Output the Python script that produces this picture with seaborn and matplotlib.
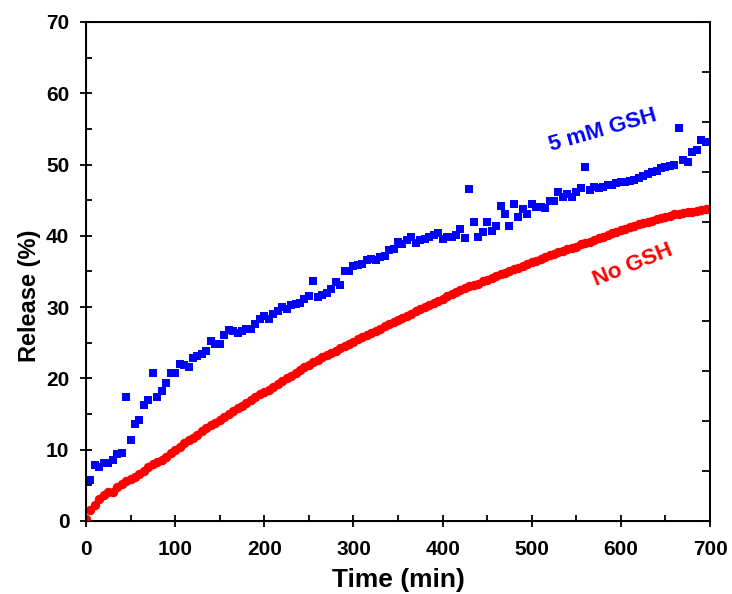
import numpy as np
import pandas as pd
import matplotlib
matplotlib.use("Agg")
import matplotlib.pyplot as plt
import seaborn as sns

# time points (min), sampled every 5 min
time_gsh = list(range(5, 705, 5))
release_gsh = [
    5.7, 7.9, 7.6, 8.2, 8.2, 8.5, 9.4, 9.5, 17.4, 11.3,
    13.6, 14.1, 16.3, 17.0, 20.8, 17.4, 18.3, 19.3, 20.8, 20.8,
    22.0, 21.9, 21.6, 22.9, 23.1, 23.4, 23.9, 25.2, 24.8, 24.8,
    26.1, 26.8, 26.6, 26.4, 26.6, 26.9, 27.0, 27.6, 28.4, 28.7,
    28.4, 29.0, 29.4, 30.0, 29.7, 30.3, 30.5, 30.6, 31.1, 31.5,
    33.7, 31.4, 31.7, 32.0, 32.6, 33.5, 33.1, 35.1, 35.1, 35.7,
    35.9, 36.0, 36.6, 36.7, 36.6, 37.0, 37.2, 38.0, 38.1, 39.2,
    38.9, 39.4, 39.8, 39.0, 39.4, 39.6, 39.9, 40.1, 40.4, 39.6,
    39.8, 39.9, 40.1, 41.0, 39.7, 46.6, 42.0, 39.9, 40.6, 41.9,
    40.7, 41.4, 44.2, 43.1, 41.4, 44.5, 42.7, 43.7, 43.0, 44.4,
    44.0, 44.0, 43.9, 44.9, 44.9, 46.1, 45.5, 45.9, 45.4, 46.2,
    46.7, 49.6, 46.5, 46.9, 46.7, 46.9, 47.1, 47.2, 47.4, 47.5,
    47.6, 47.7, 47.9, 48.1, 48.4, 48.7, 48.9, 49.1, 49.5, 49.7,
    49.8, 49.9, 55.1, 50.6, 50.3, 51.7, 52.0, 53.5, 53.1, 53.2,
]

time_ctrl = list(range(0, 705, 5))
release_ctrl = [
    0.3, 1.6, 2.2, 3.1, 3.7, 4.1, 4.0, 4.7, 5.2, 5.6,
    5.9, 6.2, 6.6, 7.0, 7.6, 8.0, 8.3, 8.6, 9.0, 9.5,
    10.0, 10.4, 10.9, 11.3, 11.7, 12.1, 12.6, 13.0, 13.4, 13.8,
    14.2, 14.6, 15.0, 15.4, 15.8, 16.2, 16.6, 17.0, 17.4, 17.8,
    18.1, 18.4, 18.8, 19.2, 19.6, 20.0, 20.4, 20.8, 21.2, 21.6,
    21.9, 22.3, 22.6, 23.0, 23.3, 23.6, 23.9, 24.2, 24.5, 24.8,
    25.1, 25.5, 25.8, 26.1, 26.4, 26.7, 27.0, 27.3, 27.6, 27.9,
    28.2, 28.5, 28.8, 29.1, 29.4, 29.7, 30.0, 30.3, 30.6, 30.9,
    31.2, 31.5, 31.8, 32.1, 32.4, 32.7, 32.9, 33.1, 33.3, 33.6,
    33.8, 34.1, 34.3, 34.6, 34.8, 35.0, 35.3, 35.5, 35.8, 36.0,
    36.3, 36.5, 36.8, 37.0, 37.3, 37.5, 37.7, 37.9, 38.1, 38.3,
    38.5, 38.8, 39.0, 39.2, 39.4, 39.7, 39.9, 40.1, 40.4, 40.6,
    40.8, 41.0, 41.2, 41.4, 41.6, 41.8, 41.9, 42.1, 42.3, 42.5,
    42.6, 42.8, 43.0, 43.1, 43.2, 43.3, 43.4, 43.5, 43.6, 43.7,
    43.8,
]

df_gsh = pd.DataFrame({"Time": time_gsh, "Release": release_gsh})
df_ctrl = pd.DataFrame({"Time": time_ctrl, "Release": release_ctrl})

sns.set_style("ticks")
plt.rcParams["font.family"] = ["Liberation Sans", "DejaVu Sans"]
plt.rcParams["font.weight"] = "bold"
for key in ["text.color", "axes.labelcolor", "xtick.color", "ytick.color", "axes.edgecolor"]:
    plt.rcParams[key] = "black"

fig = plt.figure(figsize=(7.32, 5.94), dpi=100)
ax = fig.add_axes([0.1175, 0.1229, 0.8525, 0.8401])

sns.scatterplot(data=df_ctrl, x="Time", y="Release", ax=ax, color="#ff0000",
                marker="o", s=46, linewidth=0, zorder=3)
sns.scatterplot(data=df_gsh, x="Time", y="Release", ax=ax, color="#0000ff",
                marker="s", s=34, linewidth=0, zorder=4)

ax.set_xlim(0, 700)
ax.set_ylim(0, 70)
ax.set_xticks(range(0, 701, 100))
ax.set_yticks(range(0, 71, 10))
ax.set_xticks(range(50, 700, 100), minor=True)
ax.set_yticks(range(5, 70, 10), minor=True)
ax.tick_params(axis="both", which="major", direction="inout", length=8, width=1.3,
               labelsize=15, pad=8)
ax.tick_params(axis="x", which="major", pad=10)
ax.tick_params(axis="both", which="minor", direction="in", length=4, width=1.3)
for lab in ax.get_xticklabels() + ax.get_yticklabels():
    lab.set_fontweight("bold")
for sp in ax.spines.values():
    sp.set_linewidth(1.4)

ax.set_xlabel("Time (min)", fontsize=19, fontweight="bold", labelpad=6)
ax.set_ylabel("Release (%)", fontsize=17, fontweight="bold")
ax.yaxis.set_label_coords(-0.072, 0.452)

# right axis on an independent 0-100 scale (ticks only)
ax_r = ax.twinx()
ax_r.set_ylim(0, 100)
ax_r.set_yticks(range(0, 101, 10))
ax_r.tick_params(axis="y", direction="in", length=6, width=1.3, labelright=False)
ax_r.spines["right"].set_linewidth(1.4)

ax.text(580, 54.8, "5 mM GSH", color="#0000ff", fontsize=16, fontweight="bold",
        rotation=16, ha="center", va="center")
ax.text(613, 35.9, "No GSH", color="#ff0000", fontsize=16, fontweight="bold",
        rotation=22, ha="center", va="center")

fig.savefig("out.png", dpi=100)
